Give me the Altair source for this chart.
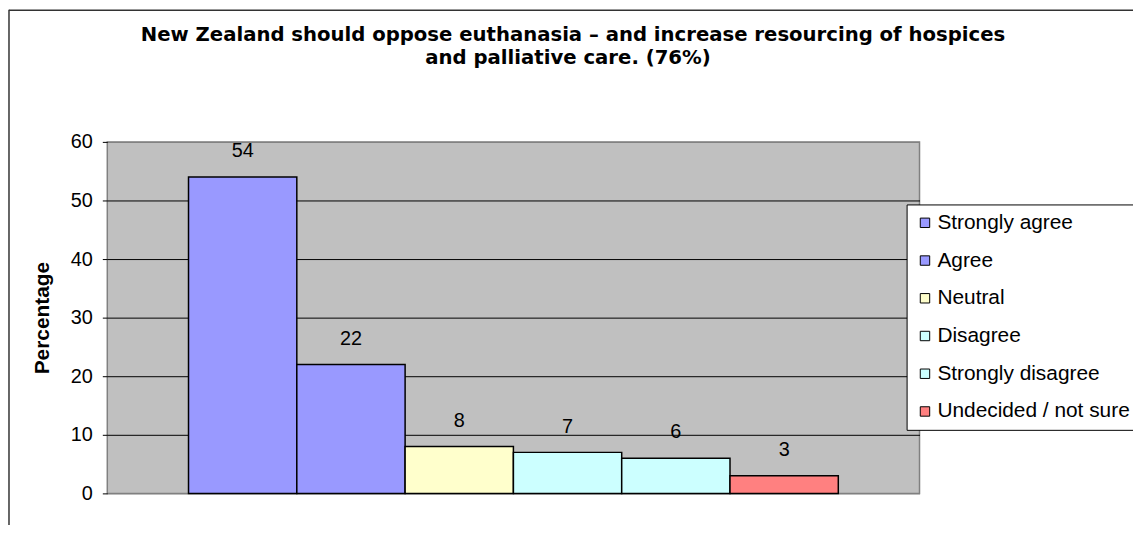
import altair as alt
import pandas as pd

categories = ["Strongly agree", "Agree", "Neutral", "Disagree", "Strongly disagree", "Undecided / not sure"]
values = [54, 22, 8, 7, 6, 3]
colors = ["#9999FF", "#9999FF", "#FFFFCC", "#CCFFFF", "#CCFFFF", "#FF8080"]
y_ticks = [0, 10, 20, 30, 40, 50, 60]
title_lines = ["New Zealand should oppose euthanasia \u2013 and increase resourcing of hospices",
               "and palliative care. (76%)"]

df = pd.DataFrame({"Category": categories, "Value": values})

FONT = "Liberation Sans"
TFONT = "DejaVu Sans"

x_enc = alt.X("Category:N", sort=categories,
              scale=alt.Scale(paddingInner=0, paddingOuter=0.75),
              axis=None)
y_enc = alt.Y("Value:Q",
              scale=alt.Scale(domain=[0, 60], nice=False),
              axis=alt.Axis(values=y_ticks, title="Percentage", titleFontSize=21,
                            titleFontWeight="bold", titleFont=FONT, titleColor="black",
                            titlePadding=18, labelFont=FONT, labelFontSize=20,
                            labelColor="black", labelPadding=10, tickSize=5,
                            tickColor="black", domain=False, grid=True,
                            gridColor={"condition": {"test": "datum.value === 0 || datum.value === 60",
                                                     "value": "#808080"},
                                       "value": "black"},
                            gridOpacity=1, gridWidth=1))

bars = alt.Chart(df).mark_bar(stroke="black", strokeWidth=1.5).encode(
    x=x_enc,
    y=y_enc,
    color=alt.Color("Category:N",
                    scale=alt.Scale(domain=categories, range=colors),
                    sort=categories,
                    legend=alt.Legend(title=None, orient="none", legendX=805, legendY=63,
                                      fillColor="white", strokeColor="black",
                                      padding=8, rowPadding=16, labelOffset=2,
                                      labelLimit=0,
                                      labelFont=FONT, labelFontSize=21, labelColor="black",
                                      symbolType="square", symbolSize=90,
                                      symbolStrokeColor="black", symbolStrokeWidth=1,
                                      symbolOpacity=1)),
)

labels = alt.Chart(df).mark_text(font=FONT, fontSize=20, color="black",
                                 baseline="middle", dy=-26).encode(
    x=alt.X("Category:N", sort=categories),
    y=alt.Y("Value:Q"),
    text=alt.Text("Value:Q"),
)

title_df1 = pd.DataFrame({"t": [title_lines[0]]})
title_df2 = pd.DataFrame({"t": [title_lines[1]]})
title1 = alt.Chart(title_df1).mark_text(font=TFONT, fontSize=19.8, fontWeight="bold",
                                        color="black", align="center",
                                        baseline="alphabetic").encode(
    x=alt.value(469), y=alt.value(-102), text="t:N")
title2 = alt.Chart(title_df2).mark_text(font=TFONT, fontSize=19.8, fontWeight="bold",
                                        color="black", align="center",
                                        baseline="alphabetic").encode(
    x=alt.value(464), y=alt.value(-78), text="t:N")

border_left = alt.Chart(title_df1).mark_rule(color="#333333", strokeWidth=1.5).encode(
    x=alt.value(-99), y=alt.value(-133), y2=alt.value(400))
border_top = alt.Chart(title_df1).mark_rule(color="#333333", strokeWidth=1.5).encode(
    x=alt.value(-99), x2=alt.value(1040), y=alt.value(-132.5))

chart = alt.layer(bars, labels, title1, title2, border_left, border_top).properties(
    width=818, height=354,
    autosize=alt.AutoSizeParams(type="none"),
    padding={"left": 100, "top": 133, "right": 215, "bottom": 30},
    background="white",
).configure_view(stroke="#808080", strokeWidth=1.5, fill="#C0C0C0")

chart.save("out.html", embed_options={"renderer": "svg", "actions": False})
